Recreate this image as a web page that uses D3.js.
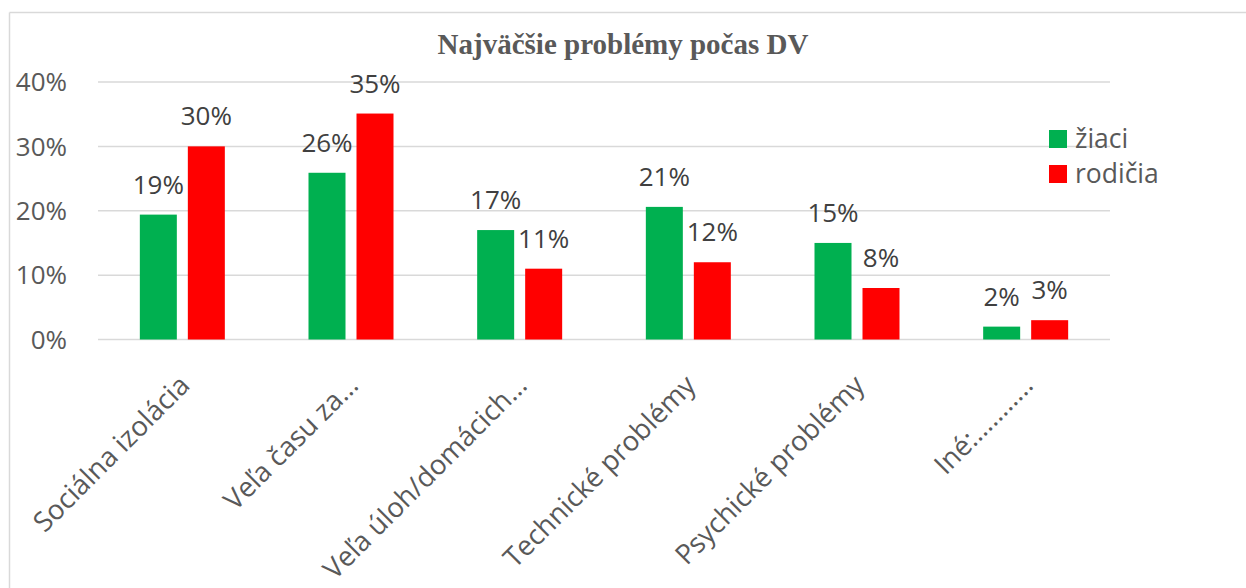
<!DOCTYPE html>
<html>
<head>
<meta charset="utf-8">
<script src="https://cdn.jsdelivr.net/npm/d3@7"></script>
<style>
  html, body { margin: 0; padding: 0; background: #fff; }
  svg { display: block; }
</style>
</head>
<body>
<svg id="chart" width="1246" height="588"></svg>
<script>
const title = "Najväčšie problémy počas DV";
const categories = [
  "Sociálna izolácia",
  "Veľa času za…",
  "Veľa úloh/domácich…",
  "Technické problémy",
  "Psychické problémy",
  "Iné:……….."
];
const seriesNames = ["žiaci", "rodičia"];
const seriesColors = ["#00B050", "#FF0000"];
const ziaci   = [0.194, 0.259, 0.170, 0.206, 0.150, 0.020];
const rodicia = [0.300, 0.351, 0.110, 0.120, 0.080, 0.030];
const yTicks = [0, 0.1, 0.2, 0.3, 0.4];

const svg = d3.select("#chart");
const W = 1246, H = 588;
const plot = { left: 98, right: 1110, top: 82, bottom: 339.5 };

// chart border (top and left edges visible)
svg.append("line").attr("x1", 9.5).attr("x2", W).attr("y1", 12.5).attr("y2", 12.5)
  .attr("stroke", "#d9d9d9").attr("stroke-width", 1.5);
svg.append("line").attr("x1", 9.5).attr("x2", 9.5).attr("y1", 12.5).attr("y2", H)
  .attr("stroke", "#d9d9d9").attr("stroke-width", 1.5);

// title
svg.append("text")
  .attr("x", 623).attr("y", 54)
  .attr("text-anchor", "middle")
  .attr("font-family", "'Liberation Serif', 'Times New Roman', serif")
  .attr("font-weight", "bold")
  .attr("font-size", 29)
  .attr("fill", "#595959")
  .text(title);

const x = d3.scaleBand().domain(categories).range([plot.left, plot.right]).padding(0);
const y = d3.scaleLinear().domain([0, 0.4]).range([plot.bottom, plot.top]);
const barW = 37, gap = 11;
const pct = d3.format(".0%");

// gridlines
svg.append("g").selectAll("line").data(yTicks).join("line")
  .attr("x1", plot.left).attr("x2", plot.right)
  .attr("y1", d => y(d)).attr("y2", d => y(d))
  .attr("stroke", "#d9d9d9").attr("stroke-width", 1.5);

// y labels
svg.append("g").selectAll("text").data(yTicks).join("text")
  .attr("x", 67).attr("y", d => y(d))
  .attr("dy", "0.36em")
  .attr("text-anchor", "end")
  .attr("font-family", "'Open Sans', sans-serif")
  .attr("font-size", 26)
  .attr("fill", "#595959")
  .text(d => pct(d));

const series = [ziaci, rodicia];
series.forEach((vals, si) => {
  const offset = si === 0 ? -gap / 2 - barW : gap / 2;
  const g = svg.append("g");
  g.selectAll("rect").data(categories).join("rect")
    .attr("x", c => x(c) + x.bandwidth() / 2 + offset)
    .attr("y", (c, i) => y(vals[i]))
    .attr("width", barW)
    .attr("height", (c, i) => y(0) - y(vals[i]))
    .attr("fill", seriesColors[si]);
  g.selectAll("text").data(categories).join("text")
    .attr("x", c => x(c) + x.bandwidth() / 2 + offset + barW / 2)
    .attr("y", (c, i) => y(vals[i]) - 21)
    .attr("text-anchor", "middle")
    .attr("font-family", "'Open Sans', sans-serif")
    .attr("font-size", 26)
    .attr("fill", "#404040")
    .text((c, i) => pct(vals[i]));
});

// x labels
svg.append("g").selectAll("text").data(categories).join("text")
  .attr("transform", c => `translate(${x(c) + x.bandwidth() / 2 + 9},387) rotate(-45)`)
  .attr("text-anchor", "end")
  .attr("font-family", "'Open Sans', sans-serif")
  .attr("font-size", 27.5)
  .attr("fill", "#595959")
  .text(c => c);

// legend
const lg = svg.append("g");
seriesNames.forEach((n, i) => {
  lg.append("rect")
    .attr("x", 1049).attr("y", 130 + i * 35)
    .attr("width", 18).attr("height", 18)
    .attr("fill", seriesColors[i]);
  lg.append("text")
    .attr("x", 1075).attr("y", 148 + i * 35)
    .attr("font-family", "'Open Sans', sans-serif")
    .attr("font-size", 26.5)
    .attr("fill", "#595959")
    .text(n);
});
</script>
</body>
</html>
